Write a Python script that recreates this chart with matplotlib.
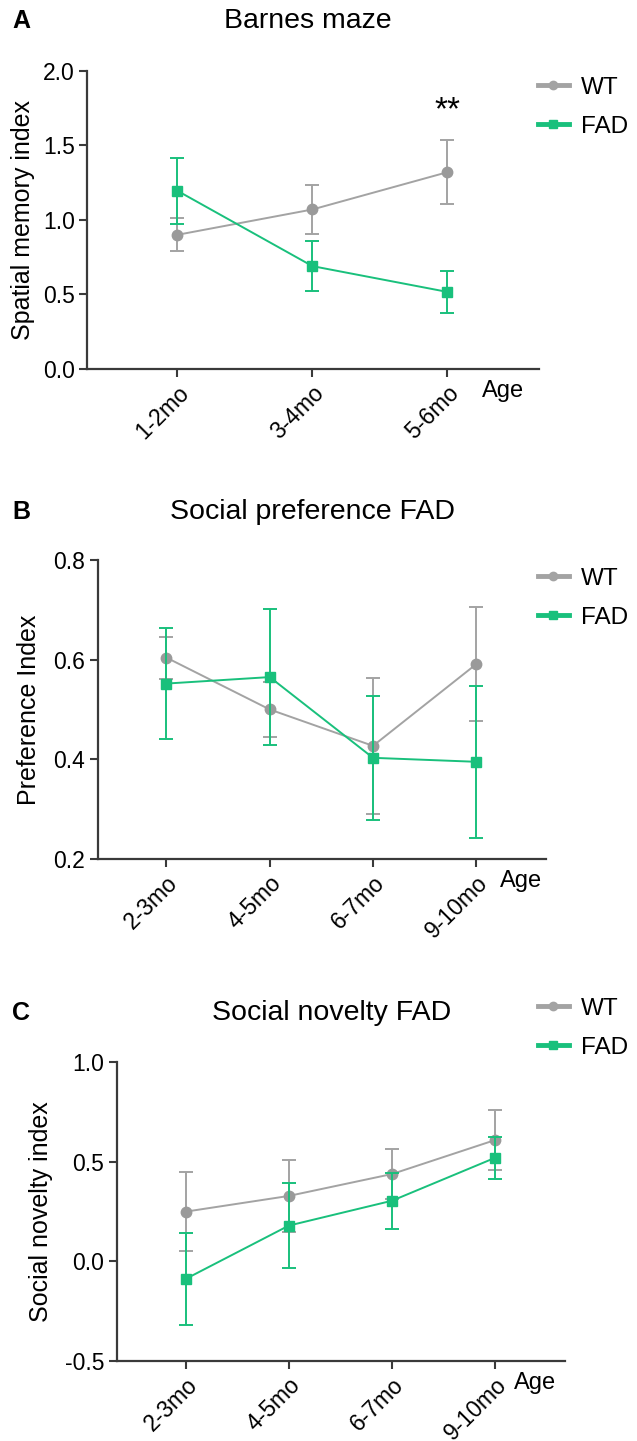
"""Three-panel age course (Barnes maze, social preference, social novelty)."""

import matplotlib

matplotlib.use("Agg")
import matplotlib.pyplot as plt  # noqa: E402
from matplotlib.lines import Line2D  # noqa: E402

plt.rcParams["font.family"] = ["Liberation Sans", "DejaVu Sans"]

_WT = "#a3a3a3"   # wild type (gray)
_FAD = "#19c07c"  # 5xFAD (green)
_AX = "#3a3a3a"

# (A) Barnes maze
ages_a = ["1-2mo", "3-4mo", "5-6mo"]
wt_a = [0.90, 1.07, 1.32]
wt_a_err = [0.11, 0.165, 0.215]
fad_a = [1.195, 0.69, 0.517]
fad_a_err = [0.22, 0.167, 0.14]

# (B) Social preference
ages_b = ["2-3mo", "4-5mo", "6-7mo", "9-10mo"]
wt_b = [0.604, 0.500, 0.427, 0.591]
wt_b_err = [0.042, 0.055, 0.137, 0.114]
fad_b = [0.552, 0.565, 0.403, 0.395]
fad_b_err = [0.112, 0.137, 0.124, 0.152]

# (C) Social novelty
ages_c = ["2-3mo", "4-5mo", "6-7mo", "9-10mo"]
wt_c = [0.250, 0.329, 0.439, 0.610]
wt_c_err = [0.197, 0.18, 0.125, 0.153]
fad_c = [-0.088, 0.180, 0.305, 0.521]
fad_c_err = [0.23, 0.215, 0.14, 0.105]


def _panel(fig, rect, ages, wt, wt_err, fad, fad_err, ylim, yticks, ylabel,
           title, title_x, letter, top_y, leg_y, ylab_x, age_x):
    ax = fig.add_axes(rect)
    x = list(range(len(ages)))
    ax.errorbar(x, wt, yerr=wt_err, color=_WT, marker="o", ms=7.5, lw=1.4,
                mfc="#9a9a9a", mec="#9a9a9a",
                elinewidth=1.4, capsize=5, capthick=1.4, zorder=2)
    ax.errorbar(x, fad, yerr=fad_err, color=_FAD, marker="s", ms=7.5, lw=1.4,
                elinewidth=1.4, capsize=5, capthick=1.4, zorder=3)
    ax.set_xlim(-0.667, len(ages) - 1 + 0.675)
    ax.set_ylim(*ylim)
    ax.set_yticks(yticks)
    ax.set_yticklabels([f"{t:.1f}" for t in yticks], fontsize=16.5)
    ax.set_xticks(x)
    ax.set_xticklabels(ages, rotation=45, ha="right", va="top",
                       rotation_mode="anchor", fontsize=16.5)
    for s in ("top", "right"):
        ax.spines[s].set_visible(False)
    for s in ("left", "bottom"):
        ax.spines[s].set_color(_AX)
        ax.spines[s].set_linewidth(1.6)
    ax.tick_params(direction="out", length=6, width=1.5, color=_AX, pad=3)
    ax.set_ylabel(ylabel, fontsize=18)
    ax.yaxis.set_label_coords(ylab_x, 0.5)
    ax.text(age_x, -0.073, "Age", transform=ax.transAxes, fontsize=17,
            ha="left", va="center")

    fig.text(title_x, top_y, title, fontsize=20.5, ha="center", va="center")
    fig.text(0.019, top_y, letter, fontsize=18, fontweight="bold",
             ha="left", va="center")

    handles = [
        Line2D([0], [0], color=_WT, marker="o", ms=6, lw=3.5),
        Line2D([0], [0], color=_FAD, marker="s", ms=6, lw=3.5),
    ]
    fig.legend(handles, ["WT", "FAD"], loc="upper left",
               bbox_to_anchor=(0.829, leg_y), borderaxespad=0, frameon=False,
               fontsize=17.5, handlelength=1.28, handletextpad=0.5,
               labelspacing=0.7)
    return ax


fig = plt.figure(figsize=(6.37, 14.41), dpi=100)

ax_a = _panel(fig, [0.1372, 0.7439, 0.7083, 0.2070], ages_a, wt_a, wt_a_err,
              fad_a, fad_a_err, (0, 2.0), [0.0, 0.5, 1.0, 1.5, 2.0],
              "Spatial memory index", "Barnes maze", 0.4835, "A", 0.9855,
              0.9535, -0.116, 0.875)
ax_a.text(2, 1.73, "**", fontsize=24, ha="center", va="center")

_panel(fig, [0.1532, 0.4039, 0.7039, 0.2075], ages_b, wt_b, wt_b_err,
       fad_b, fad_b_err, (0.2, 0.8), [0.2, 0.4, 0.6, 0.8],
       "Preference Index", "Social preference FAD", 0.491, "B", 0.645,
       0.6128, -0.127, 0.897)

_panel(fig, [0.1832, 0.0555, 0.7038, 0.2073], ages_c, wt_c, wt_c_err,
       fad_c, fad_c_err, (-0.5, 1.0), [-0.5, 0.0, 0.5, 1.0],
       "Social novelty index", "Social novelty FAD", 0.52, "C", 0.297,
       0.3144, -0.1425, 0.886)

fig.savefig("out.png", dpi=100)
